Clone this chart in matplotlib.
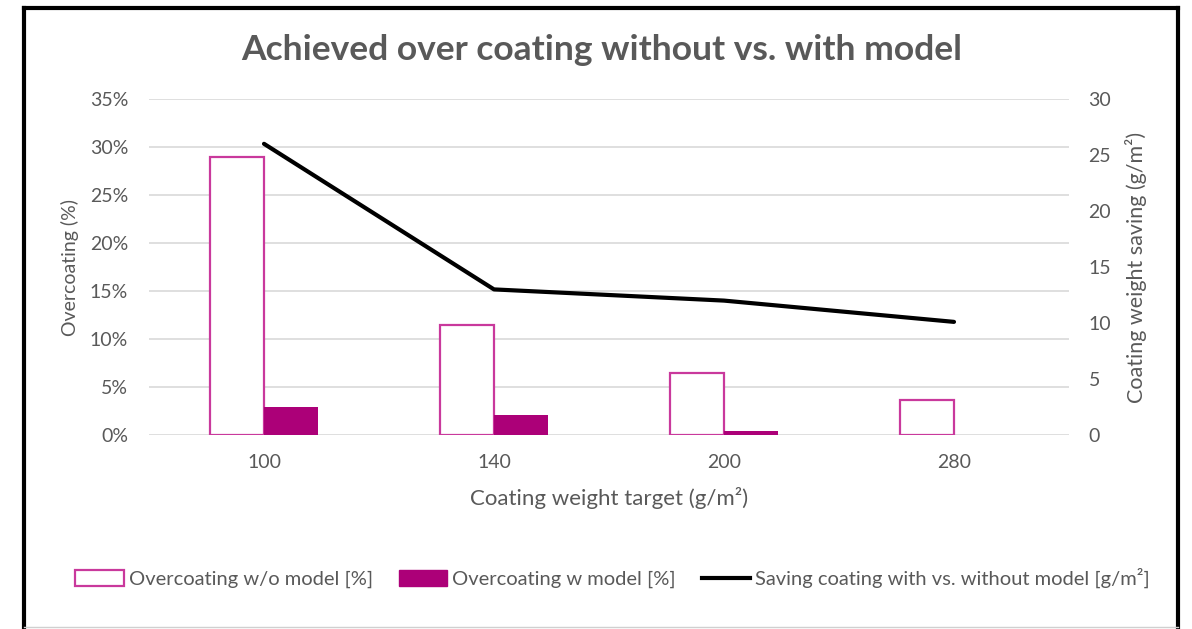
import numpy as np
import matplotlib.pyplot as plt
from matplotlib.lines import Line2D
from matplotlib.patches import Patch

plt.rcParams['font.family'] = ['Lato', 'DejaVu Sans']

# Data
targets = ['100', '140', '200', '280']
over_wo_model = [29.0, 11.5, 6.5, 3.6]     # %
over_w_model = [2.9, 2.1, 0.4, 0.0]        # %
saving = [26.0, 13.0, 12.0, 10.1]          # g/m²

grey = '#595959'
magenta = '#AC0078'
magenta_edge = '#C9399C'

fig = plt.figure(figsize=(11.92, 6.29), dpi=100)
ax = fig.add_axes([149/1192, 1 - 435/629, 920/1192, 336/629])
ax2 = ax.twinx()

x = np.arange(len(targets))
w = 0.235
ax.bar(x - w/2, over_wo_model, w, facecolor='white', edgecolor=magenta_edge,
       linewidth=1.6, zorder=3)
ax.bar(x + w/2, over_w_model, w, color=magenta, zorder=3)
ax2.plot(x, saving, color='black', linewidth=3, solid_capstyle='round', zorder=4)

ax.set_xlim(-0.5, 3.5)
ax.set_ylim(0, 35)
ax.set_yticks(np.arange(0, 36, 5))
ax.set_yticklabels([f'{v}%' for v in range(0, 36, 5)])
ax2.set_ylim(0, 30)
ax2.set_yticks(np.arange(0, 31, 5))
ax.set_xticks(x)
ax.set_xticklabels(targets)

ax.grid(axis='y', color='#D9D9D9', linewidth=1.2, zorder=0)
ax.set_axisbelow(True)
for a in (ax, ax2):
    for s in a.spines.values():
        s.set_visible(False)
    a.tick_params(length=0, labelsize=14, colors=grey)
ax.tick_params(axis='y', pad=15)
ax2.tick_params(axis='y', pad=14)
ax.tick_params(axis='x', pad=14)

ax.set_ylabel('Overcoating (%)', fontsize=14, color=grey, labelpad=8)
ax2.set_ylabel('Coating weight saving (g/m²)', fontsize=15.5, color=grey, labelpad=10)
ax.set_xlabel('Coating weight target (g/m²)', fontsize=16, color=grey, labelpad=11)

fig.text(0.505, 1 - 50/629, 'Achieved over coating without vs. with model',
         ha='center', va='center', fontsize=25.5, fontweight='bold', color=grey)

handles = [
    Patch(facecolor='white', edgecolor=magenta_edge, linewidth=1.6),
    Patch(facecolor=magenta, edgecolor=magenta),
    Line2D([0], [0], color='black', linewidth=3),
]
labels = ['Overcoating w/o model [%]', 'Overcoating w model [%]',
          'Saving coating with vs. without model [g/m²]']
fig.legend(handles, labels, loc='center', bbox_to_anchor=(0.514, 1 - 578/629),
           ncol=3, frameon=False, fontsize=14.5, labelcolor=grey,
           handlelength=2.4, handleheight=0.8, handletextpad=0.25, columnspacing=1.3)

# outer frame
fx0, fx1 = 24/1192, 1178/1192
fy0, fy1 = 1 - 627/629, 1 - 8/629
fig.add_artist(Line2D([fx0, fx0], [0, fy1], color='black', linewidth=3))
fig.add_artist(Line2D([fx1, fx1], [0, fy1], color='black', linewidth=3))
fig.add_artist(Line2D([fx0, fx1], [fy1, fy1], color='black', linewidth=3))
fig.add_artist(Line2D([fx0, fx1], [fy0, fy0], color='#D0D0D0', linewidth=1))

fig.savefig('out.png', dpi=100)
